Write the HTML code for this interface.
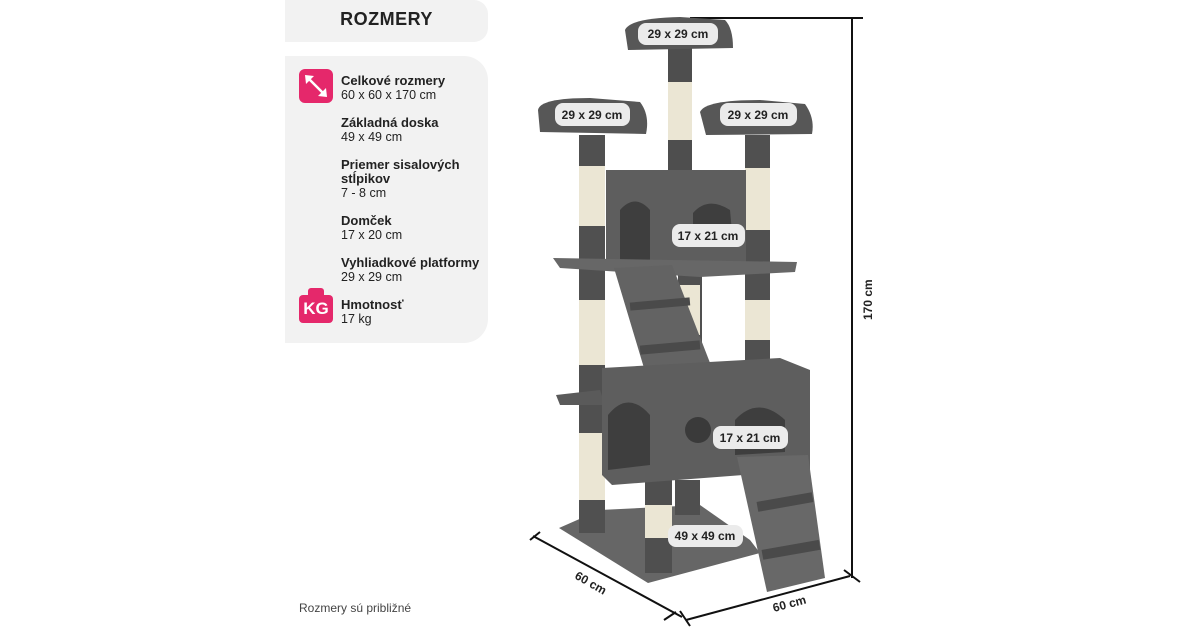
<!DOCTYPE html>
<html><head><meta charset="utf-8"><style>
html,body{margin:0;padding:0;background:#fff;}
body{width:1200px;height:630px;position:relative;overflow:hidden;font-family:"Liberation Sans","DejaVu Sans",sans-serif;color:#222;}
.p1{position:absolute;left:285px;top:0;width:203px;height:42px;background:#f2f2f2;border-radius:0 14px 14px 0;}
.p2{position:absolute;left:285px;top:56px;width:203px;height:287px;background:#f2f2f2;border-radius:0 24px 24px 0;}
.h{position:absolute;left:285px;top:9px;width:203px;text-align:center;font-weight:bold;font-size:18px;letter-spacing:0.5px;color:#222;}
.t{position:absolute;left:341px;font-size:12.5px;line-height:14px;}
.t b{font-size:13px;}
.ic{position:absolute;left:299px;width:34px;height:34px;background:#e5286b;border-radius:6px;}
.note{position:absolute;left:299px;top:601px;font-size:12px;color:#444;}
</style></head><body>
<div class="p1"></div><div class="p2"></div>
<div class="h">ROZMERY</div>
<div class="ic" style="top:69px"><svg width="34" height="34"><g stroke="#fff" stroke-width="2.5" fill="#fff"><line x1="9" y1="9" x2="25" y2="25"/></g><polygon points="6,6 15,7 7,15" fill="#fff"/><polygon points="28,28 19,27 27,19" fill="#fff"/></svg></div>
<div class="t" style="top:74px"><b>Celkové rozmery</b><br>60 x 60 x 170 cm</div>
<div class="t" style="top:116px"><b>Základná doska</b><br>49 x 49 cm</div>
<div class="t" style="top:158px"><b>Priemer sisalových<br>stĺpikov</b><br>7 - 8 cm</div>
<div class="t" style="top:214px"><b>Domček</b><br>17 x 20 cm</div>
<div class="t" style="top:256px"><b>Vyhliadkové platformy</b><br>29 x 29 cm</div>
<div style="position:absolute;left:299px;top:288px;width:34px;height:36px;">
<div style="position:absolute;left:9px;top:0;width:16px;height:8px;background:#e5286b;border-radius:3px 3px 0 0"></div>
<div style="position:absolute;left:0;top:7px;width:34px;height:28px;background:#e5286b;border-radius:4px;color:#fff;font-weight:bold;font-size:17px;text-align:center;line-height:28px;">KG</div></div>
<div class="t" style="top:298px"><b>Hmotnosť</b><br>17 kg</div>
<div class="note">Rozmery sú približné</div>

<svg width="1200" height="630" style="position:absolute;left:0;top:0" font-family="Liberation Sans, DejaVu Sans, sans-serif">
<g stroke="#111" stroke-width="2" fill="none">
<line x1="690" y1="18" x2="863" y2="18"/>
<line x1="852" y1="18" x2="852" y2="578"/>
<line x1="844" y1="570" x2="860" y2="582"/>
<line x1="850" y1="576" x2="686" y2="620"/>
<line x1="680" y1="611" x2="690" y2="626"/>
<line x1="533" y1="536" x2="682" y2="617"/>
<line x1="530" y1="540" x2="540" y2="532"/>
<line x1="664" y1="620" x2="676" y2="612"/>
</g>
<text x="0" y="0" font-size="12" font-weight="bold" fill="#222" transform="translate(872,320) rotate(-90)">170 cm</text>
<text x="0" y="0" font-size="12" font-weight="bold" fill="#222" transform="translate(574,578) rotate(30)">60 cm</text>
<text x="0" y="0" font-size="12" font-weight="bold" fill="#222" transform="translate(774,612) rotate(-15)">60 cm</text>

<g fill="#5c5c5c">
<!-- base -->
<polygon points="559,528 600,510 700,505 750,540 760,553 648,583" fill="#666"/>
<!-- posts lower -->
<rect x="645" y="478" width="27" height="95" fill="#4f4f4f"/>
<rect x="645" y="505" width="27" height="33" fill="#ebe6d4"/>
<rect x="675" y="480" width="25" height="35" fill="#4f4f4f"/>
<!-- left post -->
<rect x="579" y="135" width="26" height="398" fill="#505050"/>
<rect x="579" y="166" width="26" height="60" fill="#ebe6d4"/>
<rect x="579" y="300" width="26" height="65" fill="#ebe6d4"/>
<rect x="579" y="433" width="26" height="67" fill="#ebe6d4"/>
<polygon points="556,395 600,390 605,405 560,405" fill="#5a5a5a"/>
<!-- right post -->
<rect x="745" y="135" width="25" height="232" fill="#505050"/>
<rect x="745" y="168" width="25" height="62" fill="#ebe6d4"/>
<rect x="745" y="300" width="25" height="40" fill="#ebe6d4"/>
<!-- mid post -->
<rect x="678" y="270" width="24" height="90" fill="#505050"/>
<rect x="680" y="285" width="20" height="50" fill="#ebe6d4"/>
<!-- center post top -->
<rect x="668" y="48" width="24" height="128" fill="#4e4e4e"/>
<rect x="668" y="82" width="24" height="58" fill="#ebe6d4"/>
<!-- platforms -->
<path d="M625,30 Q630,18 680,17 L725,20 Q733,28 733,48 L628,50 Z" fill="#575757"/>
<path d="M538,110 Q540,98 590,98 L640,102 Q650,115 646,134 L540,132 Z" fill="#575757"/>
<path d="M700,112 Q705,100 760,100 L805,104 Q815,118 812,134 L706,135 Z" fill="#575757"/>
<!-- upper house -->
<rect x="606" y="170" width="140" height="92" fill="#5e5e5e"/>
<path d="M620,262 L620,210 Q635,193 650,210 L650,262 Z" fill="#3e3e3e"/>
<path d="M693,232 L693,213 Q708,196 730,210 L732,232 Z" fill="#3e3e3e"/>
<polygon points="553,258 797,262 795,272 700,277 560,268" fill="#676767"/>
<!-- upper ramp -->
<polygon points="614,268 672,265 712,368 650,388" fill="#636363"/>
<rect x="630" y="300" width="60" height="8" fill="#4a4a4a" transform="rotate(-5 660 304)"/>
<rect x="640" y="343" width="60" height="9" fill="#4a4a4a" transform="rotate(-5 670 347)"/>
<!-- lower house -->
<polygon points="602,368 780,358 810,370 810,470 612,485 602,475" fill="#5e5e5e"/>
<path d="M608,470 L608,415 Q628,390 650,415 L650,465 Z" fill="#3e3e3e"/>
<circle cx="698" cy="430" r="13" fill="#3a3a3a"/>
<path d="M735,455 L735,420 Q758,395 785,420 L785,452 Z" fill="#3e3e3e"/>
<!-- lower ramp -->
<polygon points="737,457 808,455 825,578 767,592" fill="#686868"/>
<rect x="757" y="497" width="56" height="10" fill="#4a4a4a" transform="rotate(-10 785 502)"/>
<rect x="762" y="545" width="58" height="10" fill="#4a4a4a" transform="rotate(-10 790 550)"/>
</g>

<g font-size="12" font-weight="bold" fill="#222" text-anchor="middle">
<rect x="638" y="23" width="80" height="22" rx="8" fill="#ebebeb"/><text x="678" y="38">29 x 29 cm</text>
<rect x="555" y="103" width="75" height="23" rx="8" fill="#ebebeb"/><text x="592" y="119">29 x 29 cm</text>
<rect x="720" y="103" width="77" height="23" rx="8" fill="#ebebeb"/><text x="758" y="119">29 x 29 cm</text>
<rect x="672" y="224" width="73" height="23" rx="8" fill="#ebebeb"/><text x="708" y="240">17 x 21 cm</text>
<rect x="713" y="426" width="75" height="23" rx="8" fill="#ebebeb"/><text x="750" y="442">17 x 21 cm</text>
<rect x="668" y="525" width="75" height="22" rx="8" fill="#ebebeb"/><text x="705" y="540">49 x 49 cm</text>
</g>
</svg>
</body></html>
